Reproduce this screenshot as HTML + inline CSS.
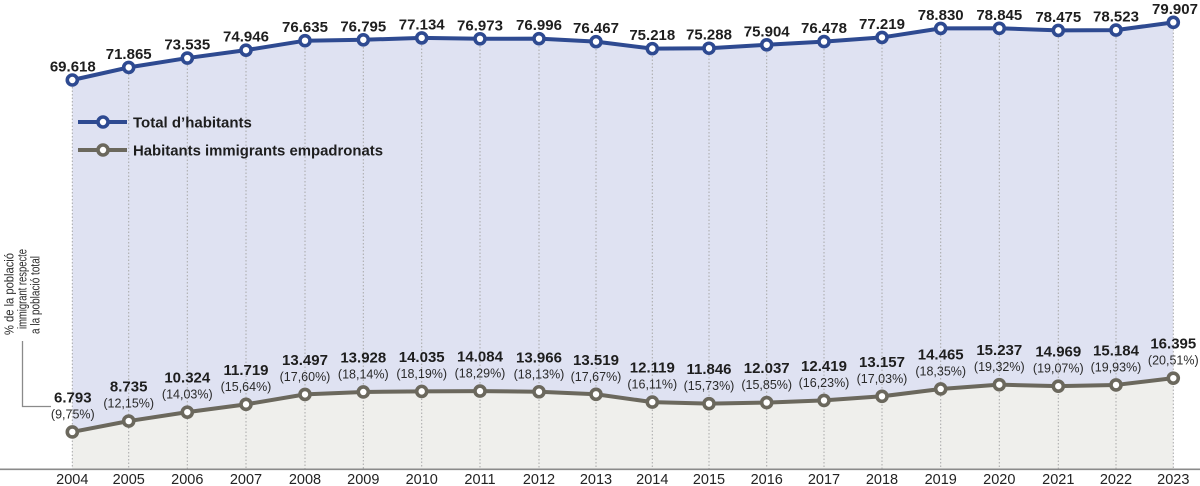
<!DOCTYPE html>
<html><head><meta charset="utf-8"><style>
html,body{margin:0;padding:0;background:#fff;}
svg{display:block;}
text{font-family:"Liberation Sans",Arial,sans-serif;}
.v{font-weight:bold;font-size:15px;fill:#1e1e1e;text-anchor:middle;}
.p{font-size:12.5px;fill:#2a2a2a;text-anchor:middle;}
.yr{font-size:14.5px;fill:#222;text-anchor:middle;}
.lg{font-weight:bold;font-size:15px;fill:#1e1e1e;}
.an{font-size:13px;fill:#2a2a2a;}
</style></head><body>
<svg width="1200" height="486" viewBox="0 0 1200 486" xmlns="http://www.w3.org/2000/svg">
<polygon fill="#dfe2f2" points="72.3,80 128.7,67.41 187.3,58.06 246,50.15 305,40.69 363.3,39.79 421.7,37.9 480,38.8 539,38.67 596,41.63 652.3,48.63 709,48.24 766.7,44.79 824,41.57 882,37.42 940.7,28.39 999.3,28.31 1058.3,30.38 1116,30.11 1173.3,22.36 1173.3,469 72.3,469"/>
<polygon fill="#efefec" points="72.3,431.95 128.7,421.07 187.3,412.16 246,404.35 305,394.39 363.3,391.98 421.7,391.38 480,391.1 539,391.76 596,394.27 652.3,402.11 709,403.64 766.7,402.57 824,400.43 882,396.3 940.7,388.97 999.3,384.64 1058.3,386.14 1116,384.94 1173.3,378.16 1173.3,469 72.3,469"/>
<g stroke="#a8a8a8" stroke-width="1" stroke-dasharray="1.5,2">
<line x1="72.3" y1="80" x2="72.3" y2="469"/>
<line x1="128.7" y1="67" x2="128.7" y2="469"/>
<line x1="187.3" y1="58" x2="187.3" y2="469"/>
<line x1="246" y1="50" x2="246" y2="469"/>
<line x1="305" y1="41" x2="305" y2="469"/>
<line x1="363.3" y1="40" x2="363.3" y2="469"/>
<line x1="421.7" y1="38" x2="421.7" y2="469"/>
<line x1="480" y1="39" x2="480" y2="469"/>
<line x1="539" y1="39" x2="539" y2="469"/>
<line x1="596" y1="42" x2="596" y2="469"/>
<line x1="652.3" y1="49" x2="652.3" y2="469"/>
<line x1="709" y1="48" x2="709" y2="469"/>
<line x1="766.7" y1="45" x2="766.7" y2="469"/>
<line x1="824" y1="42" x2="824" y2="469"/>
<line x1="882" y1="37" x2="882" y2="469"/>
<line x1="940.7" y1="28" x2="940.7" y2="469"/>
<line x1="999.3" y1="28" x2="999.3" y2="469"/>
<line x1="1058.3" y1="30" x2="1058.3" y2="469"/>
<line x1="1116" y1="30" x2="1116" y2="469"/>
<line x1="1173.3" y1="22" x2="1173.3" y2="469"/>
</g>
<line x1="0" y1="469.3" x2="1200" y2="469.3" stroke="#8a8a8a" stroke-width="1.6"/>
<polyline fill="none" stroke="#2e4a91" stroke-width="4" stroke-linejoin="round" points="72.3,80 128.7,67.41 187.3,58.06 246,50.15 305,40.69 363.3,39.79 421.7,37.9 480,38.8 539,38.67 596,41.63 652.3,48.63 709,48.24 766.7,44.79 824,41.57 882,37.42 940.7,28.39 999.3,28.31 1058.3,30.38 1116,30.11 1173.3,22.36"/>
<g fill="#fff" stroke="#2e4a91" stroke-width="3.6">
<circle cx="72.3" cy="80" r="5"/><circle cx="128.7" cy="67.41" r="5"/><circle cx="187.3" cy="58.06" r="5"/><circle cx="246" cy="50.15" r="5"/><circle cx="305" cy="40.69" r="5"/><circle cx="363.3" cy="39.79" r="5"/><circle cx="421.7" cy="37.9" r="5"/><circle cx="480" cy="38.8" r="5"/><circle cx="539" cy="38.67" r="5"/><circle cx="596" cy="41.63" r="5"/><circle cx="652.3" cy="48.63" r="5"/><circle cx="709" cy="48.24" r="5"/><circle cx="766.7" cy="44.79" r="5"/><circle cx="824" cy="41.57" r="5"/><circle cx="882" cy="37.42" r="5"/><circle cx="940.7" cy="28.39" r="5"/><circle cx="999.3" cy="28.31" r="5"/><circle cx="1058.3" cy="30.38" r="5"/><circle cx="1116" cy="30.11" r="5"/><circle cx="1173.3" cy="22.36" r="5"/>
</g>
<polyline fill="none" stroke="#6b685d" stroke-width="4" stroke-linejoin="round" points="72.3,431.95 128.7,421.07 187.3,412.16 246,404.35 305,394.39 363.3,391.98 421.7,391.38 480,391.1 539,391.76 596,394.27 652.3,402.11 709,403.64 766.7,402.57 824,400.43 882,396.3 940.7,388.97 999.3,384.64 1058.3,386.14 1116,384.94 1173.3,378.16"/>
<g fill="#fff" stroke="#6b685d" stroke-width="3.6">
<circle cx="72.3" cy="431.95" r="5"/><circle cx="128.7" cy="421.07" r="5"/><circle cx="187.3" cy="412.16" r="5"/><circle cx="246" cy="404.35" r="5"/><circle cx="305" cy="394.39" r="5"/><circle cx="363.3" cy="391.98" r="5"/><circle cx="421.7" cy="391.38" r="5"/><circle cx="480" cy="391.1" r="5"/><circle cx="539" cy="391.76" r="5"/><circle cx="596" cy="394.27" r="5"/><circle cx="652.3" cy="402.11" r="5"/><circle cx="709" cy="403.64" r="5"/><circle cx="766.7" cy="402.57" r="5"/><circle cx="824" cy="400.43" r="5"/><circle cx="882" cy="396.3" r="5"/><circle cx="940.7" cy="388.97" r="5"/><circle cx="999.3" cy="384.64" r="5"/><circle cx="1058.3" cy="386.14" r="5"/><circle cx="1116" cy="384.94" r="5"/><circle cx="1173.3" cy="378.16" r="5"/>
</g>
<g>
<text class="v" x="72.8" y="71.5">69.618</text>
<text class="v" x="128.7" y="58.9">71.865</text>
<text class="v" x="187.3" y="49.5">73.535</text>
<text class="v" x="246" y="41.6">74.946</text>
<text class="v" x="305" y="32.2">76.635</text>
<text class="v" x="363.3" y="31.3">76.795</text>
<text class="v" x="421.7" y="29.4">77.134</text>
<text class="v" x="480" y="30.3">76.973</text>
<text class="v" x="539" y="30.2">76.996</text>
<text class="v" x="596" y="33.1">76.467</text>
<text class="v" x="652.3" y="40.1">75.218</text>
<text class="v" x="709" y="39.7">75.288</text>
<text class="v" x="766.7" y="36.3">75.904</text>
<text class="v" x="824" y="33.1">76.478</text>
<text class="v" x="882" y="28.9">77.219</text>
<text class="v" x="940.7" y="19.9">78.830</text>
<text class="v" x="999.3" y="19.8">78.845</text>
<text class="v" x="1058.3" y="21.9">78.475</text>
<text class="v" x="1116" y="21.6">78.523</text>
<text class="v" x="1175" y="13.9">79.907</text>
</g>
<text class="v" x="72.8" y="402.5">6.793</text><text class="p" x="72.8" y="418.5">(9,75%)</text>
<text class="v" x="128.7" y="391.6">8.735</text><text class="p" x="128.7" y="407.6">(12,15%)</text>
<text class="v" x="187.3" y="382.7">10.324</text><text class="p" x="187.3" y="398.7">(14,03%)</text>
<text class="v" x="246" y="374.9">11.719</text><text class="p" x="246" y="390.9">(15,64%)</text>
<text class="v" x="305" y="364.9">13.497</text><text class="p" x="305" y="380.9">(17,60%)</text>
<text class="v" x="363.3" y="362.5">13.928</text><text class="p" x="363.3" y="378.5">(18,14%)</text>
<text class="v" x="421.7" y="361.9">14.035</text><text class="p" x="421.7" y="377.9">(18,19%)</text>
<text class="v" x="480" y="361.6">14.084</text><text class="p" x="480" y="377.6">(18,29%)</text>
<text class="v" x="539" y="362.3">13.966</text><text class="p" x="539" y="378.3">(18,13%)</text>
<text class="v" x="596" y="364.8">13.519</text><text class="p" x="596" y="380.8">(17,67%)</text>
<text class="v" x="652.3" y="372.6">12.119</text><text class="p" x="652.3" y="388.6">(16,11%)</text>
<text class="v" x="709" y="374.1">11.846</text><text class="p" x="709" y="390.1">(15,73%)</text>
<text class="v" x="766.7" y="373.1">12.037</text><text class="p" x="766.7" y="389.1">(15,85%)</text>
<text class="v" x="824" y="370.9">12.419</text><text class="p" x="824" y="386.9">(16,23%)</text>
<text class="v" x="882" y="366.8">13.157</text><text class="p" x="882" y="382.8">(17,03%)</text>
<text class="v" x="940.7" y="359.5">14.465</text><text class="p" x="940.7" y="375.5">(18,35%)</text>
<text class="v" x="999.3" y="355.1">15.237</text><text class="p" x="999.3" y="371.1">(19,32%)</text>
<text class="v" x="1058.3" y="356.6">14.969</text><text class="p" x="1058.3" y="372.6">(19,07%)</text>
<text class="v" x="1116" y="355.4">15.184</text><text class="p" x="1116" y="371.4">(19,93%)</text>
<text class="v" x="1173.3" y="348.7">16.395</text><text class="p" x="1173.3" y="364.7">(20,51%)</text>
<g>
<text class="yr" x="72.3" y="484">2004</text><text class="yr" x="128.7" y="484">2005</text><text class="yr" x="187.3" y="484">2006</text><text class="yr" x="246" y="484">2007</text><text class="yr" x="305" y="484">2008</text><text class="yr" x="363.3" y="484">2009</text><text class="yr" x="421.7" y="484">2010</text><text class="yr" x="480" y="484">2011</text><text class="yr" x="539" y="484">2012</text><text class="yr" x="596" y="484">2013</text><text class="yr" x="652.3" y="484">2014</text><text class="yr" x="709" y="484">2015</text><text class="yr" x="766.7" y="484">2016</text><text class="yr" x="824" y="484">2017</text><text class="yr" x="882" y="484">2018</text><text class="yr" x="940.7" y="484">2019</text><text class="yr" x="999.3" y="484">2020</text><text class="yr" x="1058.3" y="484">2021</text><text class="yr" x="1116" y="484">2022</text><text class="yr" x="1173.3" y="484">2023</text>
</g>
<line x1="78" y1="122" x2="127" y2="122" stroke="#2e4a91" stroke-width="4"/>
<circle cx="103" cy="122" r="5" fill="#fff" stroke="#2e4a91" stroke-width="3.6"/>
<text class="lg" x="133" y="127.5">Total d’habitants</text>
<line x1="78" y1="150" x2="127" y2="150" stroke="#6b685d" stroke-width="4"/>
<circle cx="103" cy="150" r="5" fill="#fff" stroke="#6b685d" stroke-width="3.6"/>
<text class="lg" x="133" y="155.5" textLength="250" lengthAdjust="spacingAndGlyphs">Habitants immigrants empadronats</text>
<text class="an" transform="translate(13.5,335) rotate(-90)" textLength="82" lengthAdjust="spacingAndGlyphs">% de la població</text>
<text class="an" transform="translate(26.5,329) rotate(-90)" textLength="80" lengthAdjust="spacingAndGlyphs">immigrant respecte</text>
<text class="an" transform="translate(39.5,334) rotate(-90)" textLength="78" lengthAdjust="spacingAndGlyphs">a la població total</text>
<polyline fill="none" stroke="#8a8a8a" stroke-width="1.3" points="22.5,341 22.5,406.5 51,406.5"/>
</svg>
</body></html>
